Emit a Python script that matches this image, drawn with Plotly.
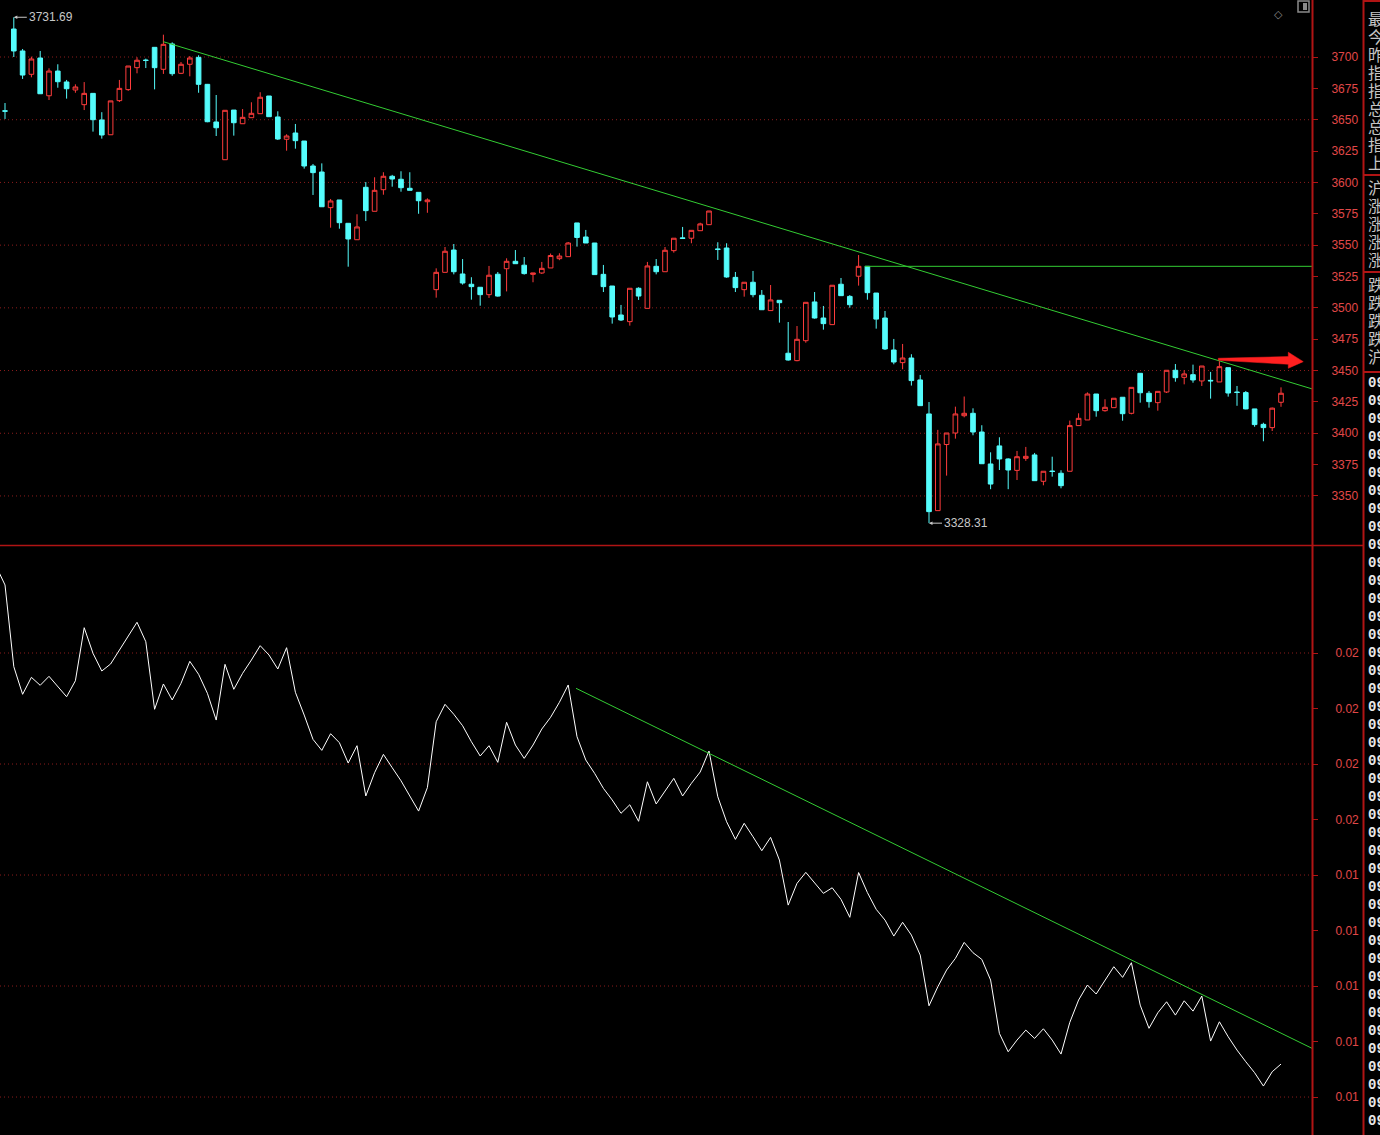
import plotly.graph_objects as go

# ---------------- data ----------------
candle_index = list(range(146))

opens = [3657.1, 3722.3, 3704.8, 3686.2, 3699.2, 3669.1, 3688.8, 3680.1, 3673.7, 3662.0,
         3671.0, 3649.8, 3638.0, 3665.2, 3674.0, 3691.5, 3697.6, 3707.7, 3690.2, 3710.4,
         3687.0, 3694.2, 3699.7, 3678.2, 3648.2, 3618.1, 3657.7, 3646.8, 3651.6, 3654.8,
         3668.9, 3652.2, 3634.4, 3639.4, 3633.0, 3613.1, 3608.3, 3579.9, 3586.0, 3567.4,
         3554.3, 3596.1, 3577.0, 3594.2, 3604.9, 3602.5, 3595.3, 3592.1, 3584.6, 3514.5,
         3528.3, 3546.1, 3527.0, 3518.8, 3516.4, 3510.5, 3526.8, 3531.2, 3537.1, 3534.0,
         3526.7, 3527.8, 3531.8, 3539.2, 3540.8, 3567.7, 3556.5, 3551.7, 3526.7, 3517.4,
         3494.3, 3489.0, 3515.6, 3499.6, 3533.1, 3528.8, 3545.6, 3555.8, 3555.5, 3561.5,
         3566.3, 3547.0, 3547.7, 3524.3, 3514.5, 3520.4, 3510.0, 3497.8, 3506.0, 3463.8,
         3457.9, 3473.8, 3504.7, 3491.9, 3486.6, 3518.8, 3509.1, 3525.2, 3533.1, 3511.8,
         3491.9, 3466.4, 3456.3, 3460.0, 3442.5, 3415.4, 3338.3, 3391.0, 3400.2, 3414.0,
         3415.9, 3401.0, 3375.5, 3389.9, 3379.5, 3370.4, 3380.0, 3382.7, 3361.7, 3369.9,
         3368.1, 3369.7, 3406.1, 3410.6, 3431.3, 3418.0, 3420.4, 3428.7, 3415.9, 3447.8,
         3431.9, 3424.4, 3432.9, 3450.2, 3444.6, 3446.7, 3441.7, 3442.2, 3440.9, 3452.3,
         3432.9, 3432.4, 3419.4, 3407.1, 3404.5, 3424.7]

highs = [3663.3, 3731.69, 3706.4, 3700.3, 3704.8, 3691.0, 3694.2, 3681.7, 3678.2, 3680.0,
         3671.0, 3656.0, 3665.0, 3681.7, 3692.8, 3699.8, 3698.7, 3707.7, 3717.8, 3711.7,
         3696.0, 3700.8, 3701.4, 3678.5, 3669.7, 3657.5, 3657.7, 3658.5, 3663.9, 3671.9,
         3668.9, 3656.7, 3638.4, 3646.6, 3633.0, 3614.7, 3615.2, 3586.8, 3586.0, 3567.4,
         3574.6, 3600.3, 3604.1, 3608.1, 3606.0, 3608.9, 3608.1, 3592.1, 3587.3, 3531.5,
         3548.5, 3550.9, 3538.9, 3524.4, 3516.4, 3533.4, 3528.6, 3539.5, 3546.1, 3540.5,
         3527.8, 3536.6, 3543.3, 3543.5, 3552.5, 3567.7, 3562.1, 3551.7, 3534.2, 3517.4,
         3502.3, 3515.6, 3516.4, 3536.6, 3538.9, 3548.5, 3555.5, 3564.5, 3561.8, 3567.9,
         3577.2, 3552.3, 3551.5, 3528.6, 3520.4, 3529.4, 3514.2, 3518.2, 3506.0, 3488.7,
         3485.5, 3504.4, 3512.6, 3501.5, 3518.0, 3523.8, 3510.2, 3542.1, 3533.1, 3511.8,
         3497.5, 3475.2, 3471.2, 3463.0, 3446.5, 3424.9, 3402.7, 3400.2, 3421.2, 3429.3,
         3419.9, 3406.4, 3384.8, 3396.8, 3380.0, 3385.9, 3389.1, 3384.3, 3369.7, 3381.3,
         3370.5, 3410.1, 3415.9, 3432.6, 3431.3, 3427.1, 3427.9, 3428.7, 3436.6, 3447.8,
         3433.7, 3433.4, 3450.2, 3455.2, 3450.2, 3454.7, 3453.6, 3448.9, 3457.5, 3452.3,
         3437.7, 3433.7, 3419.4, 3408.4, 3420.5, 3436.6]

lows = [3650.6, 3700.0, 3682.5, 3683.8, 3670.5, 3665.7, 3675.5, 3666.8, 3671.5, 3657.7,
        3640.5, 3634.9, 3638.0, 3664.1, 3673.0, 3687.0, 3691.2, 3674.2, 3686.5, 3685.0,
        3686.4, 3684.6, 3671.5, 3648.0, 3637.0, 3618.1, 3637.3, 3646.8, 3651.6, 3654.8,
        3652.4, 3633.8, 3625.3, 3626.9, 3611.0, 3590.0, 3580.6, 3563.9, 3563.1, 3532.8,
        3554.3, 3569.2, 3577.0, 3590.2, 3596.6, 3592.6, 3593.7, 3575.0, 3575.8, 3508.1,
        3528.3, 3526.7, 3518.5, 3506.5, 3501.7, 3507.9, 3508.9, 3513.1, 3535.2, 3526.5,
        3520.4, 3527.0, 3531.8, 3538.0, 3540.8, 3548.8, 3551.7, 3526.5, 3512.6, 3487.4,
        3489.5, 3485.8, 3506.3, 3499.6, 3526.7, 3528.8, 3544.0, 3555.3, 3551.5, 3561.5,
        3566.3, 3538.2, 3524.0, 3512.6, 3508.9, 3508.4, 3498.5, 3497.8, 3488.2, 3457.9,
        3457.4, 3472.2, 3491.4, 3482.6, 3486.6, 3509.7, 3500.1, 3517.7, 3506.5, 3483.4,
        3466.4, 3455.0, 3451.0, 3438.0, 3422.0, 3328.31, 3338.3, 3366.2, 3395.7, 3412.7,
        3398.4, 3375.7, 3355.4, 3370.7, 3355.4, 3362.7, 3378.0, 3362.2, 3358.5, 3365.4,
        3356.1, 3369.7, 3406.1, 3410.6, 3413.2, 3417.2, 3420.4, 3410.0, 3415.1, 3424.4,
        3420.4, 3418.0, 3432.1, 3441.1, 3439.0, 3440.3, 3437.7, 3427.6, 3440.9, 3429.2,
        3421.9, 3419.1, 3405.2, 3393.6, 3401.8, 3421.1]

closes = [3656.8, 3704.8, 3685.6, 3698.4, 3670.7, 3688.8, 3680.3, 3674.7, 3676.1, 3671.0,
          3650.0, 3637.8, 3665.0, 3675.0, 3692.8, 3697.4, 3697.2, 3691.5, 3710.1, 3686.7,
          3694.2, 3699.2, 3678.2, 3648.4, 3643.6, 3657.5, 3647.6, 3651.9, 3655.1, 3667.9,
          3652.4, 3634.6, 3637.0, 3633.3, 3613.1, 3607.8, 3580.6, 3585.2, 3567.9, 3554.9,
          3564.5, 3577.5, 3593.7, 3604.9, 3602.7, 3595.8, 3593.7, 3585.4, 3586.0, 3528.3,
          3545.1, 3528.8, 3519.8, 3516.9, 3510.5, 3526.0, 3509.4, 3537.1, 3535.2, 3527.3,
          3527.8, 3531.5, 3541.7, 3541.3, 3551.7, 3556.1, 3551.7, 3526.5, 3516.9, 3492.7,
          3490.3, 3515.6, 3509.4, 3533.4, 3528.8, 3545.9, 3555.5, 3555.3, 3561.8, 3566.9,
          3577.2, 3546.5, 3524.6, 3516.1, 3520.4, 3510.5, 3498.5, 3506.3, 3504.1, 3458.4,
          3474.9, 3504.4, 3491.9, 3487.4, 3518.0, 3509.7, 3502.5, 3533.1, 3512.1, 3491.0,
          3467.2, 3456.8, 3460.0, 3442.0, 3422.0, 3337.5, 3391.5, 3400.2, 3415.4, 3415.9,
          3401.0, 3375.7, 3359.5, 3379.5, 3370.7, 3381.3, 3381.6, 3362.2, 3369.7, 3369.5,
          3358.2, 3406.1, 3411.9, 3431.3, 3418.0, 3420.7, 3427.9, 3415.6, 3436.6, 3432.3,
          3425.2, 3433.4, 3450.2, 3444.3, 3447.3, 3442.5, 3453.6, 3441.8, 3453.1, 3432.1,
          3432.5, 3419.4, 3406.9, 3404.5, 3420.0, 3431.9]

# lower panel indicator (one value per bar, first value is the bar before the window)
line_index = list(range(-1, 146))
line_vals = [177.8, 176.13, 168.77, 166.28, 167.81, 167.09, 167.90, 167.03, 166.06, 167.50, 172.28,
             169.97, 168.38, 169.01, 170.27, 171.53, 172.77, 171.02, 164.93, 167.21, 165.77,
             167.27, 169.25, 168.08, 166.37, 163.96, 168.98, 166.73, 168.17, 169.37, 170.66,
             169.82, 168.56, 170.48, 166.46, 164.41, 162.22, 161.23, 162.73, 161.92, 160.09,
             161.65, 157.12, 159.22, 160.87, 159.67, 158.49, 157.12, 155.76, 157.88, 163.81,
             165.38, 164.48, 163.45, 162.01, 160.72, 161.65, 160.15, 163.76, 161.71, 160.51,
             161.71, 163.15, 164.21, 165.56, 167.12, 162.46, 160.36, 159.16, 157.81, 156.76,
             155.56, 156.33, 154.84, 158.40, 156.40, 157.50, 158.71, 157.12, 158.26, 159.28,
             161.17, 157.05, 154.80, 153.21, 154.66, 153.45, 152.19, 153.39, 151.35, 147.29,
             149.25, 150.24, 149.30, 148.35, 148.85, 147.81, 146.19, 150.22, 148.42, 146.91,
             145.94, 144.50, 145.74, 144.59, 142.79, 138.22, 139.93, 141.44, 142.49, 143.93,
             143.00, 142.40, 140.54, 135.73, 134.08, 135.13, 136.03, 135.28, 136.15, 135.13,
             133.87, 136.73, 138.74, 140.09, 139.28, 140.54, 141.74, 140.78, 142.10, 138.28,
             136.19, 137.59, 138.58, 137.38, 138.67, 137.74, 139.10, 135.04, 136.78, 135.43,
             134.23, 133.18, 132.19, 130.99, 132.28, 132.97]

# axis ticks
price_ticks = [3350, 3375, 3400, 3425, 3450, 3475, 3500, 3525, 3550, 3575, 3600, 3625, 3650, 3675, 3700]
price_grid = [3350, 3400, 3450, 3500, 3550, 3600, 3650, 3700]
ind_ticks = [130, 135, 140, 145, 150, 155, 160, 165, 170]
ind_tick_text = ["0.01", "0.01", "0.01", "0.01", "0.01", "0.02", "0.02", "0.02", "0.02"]
ind_grid = [130, 140, 150, 160, 170]

# drawn trend lines / markers
trend_top_x = [17.99, 148.52]
trend_top_y = [3712.2, 3435.4]
hline_x = [97.7, 148.52]
hline_y = [3533.1, 3533.1]
trend_bot_x = [64.89, 148.52]
trend_bot_y = [166.82, 134.39]
arrow_x = [137.88, 145.83, 145.83, 147.53, 145.83, 145.83, 137.88]
arrow_y = [3459.8, 3461.1, 3464.6, 3457.1, 3451.8, 3455.0, 3458.2]
high_label = (1, 3731.69, "3731.69")
low_label = (105, 3328.31, "3328.31")

# side panel (truncated text column at the window edge)
side_chars = ["最", "今", "昨", "指", "指", "总", "总", "指", "上",
              "沪", "涨", "涨", "涨", "涨",
              "跌", "跌", "跌", "跌", "沪"]
side_y = [18, 36, 54, 72, 90, 108, 126, 144, 162,
          187, 205, 223, 241, 259,
          284, 302, 320, 338, 356]

# ---------------- styling ----------------
W, H = 1380, 1135
PW = 1312  # plot width in px
BG = "#000000"
RED = "#ff3c3c"
CYAN = "#54fcfc"
AXIS = "#b01414"
GRID = "#8c1c1c"
LBL = "#e04848"
GREEN = "#33cc33"
XR = [-5 / 8.8, (PW - 5) / 8.8]


def px(xp):
    return xp / PW


def py(yp):
    return 1 - yp / H


fig = go.Figure()
fig.add_trace(go.Candlestick(
    x=candle_index, open=opens, high=highs, low=lows, close=closes,
    increasing=dict(line=dict(color=RED, width=1), fillcolor=BG),
    decreasing=dict(line=dict(color=CYAN, width=1), fillcolor=CYAN),
    whiskerwidth=0, hoverinfo="skip", xaxis="x", yaxis="y", showlegend=False))
fig.add_trace(go.Scatter(
    x=line_index, y=line_vals, mode="lines", line=dict(color="#ffffff", width=1),
    hoverinfo="skip", xaxis="x2", yaxis="y2", showlegend=False))

shapes = []
for v in price_grid:
    shapes.append(dict(type="line", xref="paper", yref="y", x0=0, x1=1, y0=v, y1=v,
                       line=dict(color=GRID, width=1, dash="1px,3px"), layer="below"))
for v in ind_grid:
    shapes.append(dict(type="line", xref="paper", yref="y2", x0=0, x1=1, y0=v, y1=v,
                       line=dict(color=GRID, width=1, dash="1px,3px"), layer="below"))
# trend lines
shapes.append(dict(type="line", xref="x", yref="y", x0=trend_top_x[0], x1=trend_top_x[1],
                   y0=trend_top_y[0], y1=trend_top_y[1], line=dict(color=GREEN, width=1)))
shapes.append(dict(type="line", xref="x", yref="y", x0=hline_x[0], x1=hline_x[1],
                   y0=hline_y[0], y1=hline_y[1], line=dict(color=GREEN, width=1)))
shapes.append(dict(type="line", xref="x2", yref="y2", x0=trend_bot_x[0], x1=trend_bot_x[1],
                   y0=trend_bot_y[0], y1=trend_bot_y[1], line=dict(color=GREEN, width=1)))
# red arrow
path = "M " + " L ".join(f"{a},{b}" for a, b in zip(arrow_x, arrow_y)) + " Z"
shapes.append(dict(type="path", xref="x", yref="y", path=path, fillcolor="#ff2020",
                   line=dict(color="#ff2020", width=0.5)))
# frame lines
shapes.append(dict(type="line", xref="paper", yref="paper", x0=px(1312.5), x1=px(1312.5), y0=0, y1=1,
                   line=dict(color=AXIS, width=2)))
shapes.append(dict(type="line", xref="paper", yref="paper", x0=px(1363.5), x1=px(1363.5), y0=0, y1=1,
                   line=dict(color=AXIS, width=2)))
shapes.append(dict(type="line", xref="paper", yref="paper", x0=0, x1=px(1364), y0=py(545.5), y1=py(545.5),
                   line=dict(color=AXIS, width=1.5)))
for yy in [1, 175, 272, 372]:
    shapes.append(dict(type="line", xref="paper", yref="paper", x0=px(1363), x1=px(1380),
                       y0=py(yy), y1=py(yy), line=dict(color=AXIS, width=2)))
# small icon top-right
shapes.append(dict(type="rect", xref="paper", yref="paper", x0=px(1298), x1=px(1309), y0=py(12), y1=py(1),
                   line=dict(color="#8a8a8a", width=1.5)))
shapes.append(dict(type="rect", xref="paper", yref="paper", x0=px(1303), x1=px(1307), y0=py(10), y1=py(3),
                   fillcolor="#8a8a8a", line=dict(width=0)))

annotations = []
for (ix, val, txt) in [high_label, low_label]:
    annotations.append(dict(x=ix, y=val, xref="x", yref="y", text=txt, showarrow=True,
                            ax=13, ay=0, xanchor="left", yanchor="middle",
                            arrowhead=2, arrowsize=0.7, arrowwidth=1, arrowcolor="#c8c8c8",
                            font=dict(family="Liberation Sans", size=12, color="#c8c8c8")))
annotations.append(dict(x=px(1285), y=py(6), xref="paper", yref="paper", text="◇", showarrow=False,
                        font=dict(family="DejaVu Sans", size=11, color="#8a8a8a")))

for ch, yy in zip(side_chars, side_y):
    annotations.append(dict(x=px(1366), y=py(yy), xref="paper", yref="paper", text=ch, showarrow=False,
                            xanchor="left", yanchor="middle",
                            font=dict(family="Noto Sans CJK SC", size=16, color="#c4c4c4")))
yy = 383
while yy < H:
    annotations.append(dict(x=px(1366), y=py(yy), xref="paper", yref="paper", text="<b>09</b>",
                            showarrow=False, xanchor="left", yanchor="middle",
                            font=dict(family="Liberation Mono", size=14, color="#e8e8e8")))
    yy += 18

axis_font = dict(family="Liberation Sans", size=12, color=LBL)
fig.update_layout(
    width=W, height=H,
    margin=dict(l=0, r=W - PW, t=0, b=0),
    paper_bgcolor=BG, plot_bgcolor=BG,
    showlegend=False, boxgap=0.25,
    xaxis=dict(domain=[0, 1], range=XR, visible=False, anchor="y",
               rangeslider=dict(visible=False), fixedrange=True),
    xaxis2=dict(domain=[0, 1], range=XR, visible=False, anchor="y2", fixedrange=True),
    yaxis=dict(domain=[1 - 545 / H, 1], range=[3310.9, 3745.45], side="right", anchor="x",
               tickvals=price_ticks, ticktext=[str(v) for v in price_ticks],
               showgrid=False, zeroline=False, showline=False,
               ticks="outside", ticklen=5, tickcolor=AXIS, tickwidth=1,
               tickfont=axis_font, ticklabelstandoff=11),
    yaxis2=dict(domain=[0, 1 - 547 / H], range=[126.58, 179.55], side="right", anchor="x2",
                tickvals=ind_ticks, ticktext=ind_tick_text,
                showgrid=False, zeroline=False, showline=False,
                ticks="outside", ticklen=5, tickcolor=AXIS, tickwidth=1,
                tickfont=axis_font, ticklabelstandoff=15),
    shapes=shapes, annotations=annotations,
)

page_js = ("document.body.style.margin='0';document.body.style.padding='0';"
           "document.body.style.background='#000';document.body.style.overflow='hidden';"
           "document.documentElement.style.overflow='hidden';")
fig.write_html("out.html", config={"displayModeBar": False}, post_script=page_js)
